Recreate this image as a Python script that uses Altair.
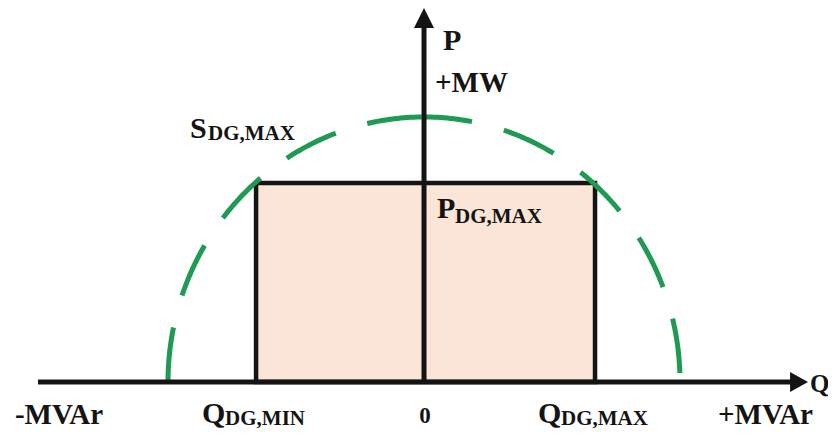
import numpy as np
import pandas as pd
import altair as alt

# ---- values (normalised so that S_DG,MAX = 1) ----
S_MAX = 1.0            # radius of the apparent-power limit circle
P_MAX = 0.751          # active power limit (top of rectangle)
Q_MIN = -0.656         # reactive power lower limit
Q_MAX = 0.668          # reactive power upper limit
Q_AXIS = [-1.508, 1.500]   # drawn extent of the Q axis
P_AXIS = [0.0, 1.411]      # drawn extent of the P axis
X_DOMAIN = [-1.625, 1.578]
Y_DOMAIN = [-0.181, 1.411]

W, H = 820, 422
FONT = "Liberation Serif"
INK = "#141414"
GREEN = "#1f9a52"
PEACH = "#fbe5d6"

xs = alt.Scale(domain=X_DOMAIN, nice=False, zero=False)
ys = alt.Scale(domain=Y_DOMAIN, nice=False, zero=False)


def X(f):
    return alt.X(f, type="quantitative", scale=xs, axis=None)


def Y(f):
    return alt.Y(f, type="quantitative", scale=ys, axis=None)


# operating rectangle
rect_df = pd.DataFrame({"q0": [Q_MIN], "q1": [Q_MAX], "p0": [0.0], "p1": [P_MAX]})
rect = alt.Chart(rect_df).mark_rect(fill=PEACH, stroke=INK, strokeWidth=4.5).encode(
    x=X("q0"), x2="q1", y=Y("p0"), y2="p1"
)

# S_DG,MAX circle, drawn as two quarter arcs from the Q axis up to the top
def arc(t0, t1):
    t = np.linspace(t0, t1, 121)
    return pd.DataFrame({"q": S_MAX * np.cos(t), "p": S_MAX * np.sin(t), "i": np.arange(len(t))})


left_arc = alt.Chart(arc(np.pi, np.pi / 2)).mark_line(
    color=GREEN, strokeWidth=5, strokeDash=[55, 33], strokeDashOffset=0, strokeCap="butt"
).encode(x=X("q"), y=Y("p"), order="i:Q")
right_arc = alt.Chart(arc(0.0, np.pi / 2)).mark_line(
    color=GREEN, strokeWidth=5, strokeDash=[55, 33], strokeDashOffset=79, strokeCap="butt"
).encode(x=X("q"), y=Y("p"), order="i:Q")

# axes with arrowheads
h_axis = alt.Chart(pd.DataFrame({"a": [Q_AXIS[0]], "b": [Q_AXIS[1] - 0.05], "y": [0.0]})).mark_rule(
    color=INK, strokeWidth=5
).encode(x=X("a"), x2="b", y=Y("y"))
v_axis = alt.Chart(pd.DataFrame({"x": [0.0], "a": [P_AXIS[0]], "b": [P_AXIS[1] - 0.05]})).mark_rule(
    color=INK, strokeWidth=5
).encode(x=X("x"), y=Y("a"), y2="b")

up_head = alt.Chart(pd.DataFrame({"x": [0.0], "y": [P_AXIS[1]]})).mark_point(
    shape="M0,0 L-1,2 L1,2 Z", filled=True, size=400, color=INK, opacity=1
).encode(x=X("x"), y=Y("y"))
right_head = alt.Chart(pd.DataFrame({"x": [Q_AXIS[1]], "y": [0.0]})).mark_point(
    shape="M0,0 L-1.8,-1 L-1.8,1 Z", filled=True, size=400, color=INK, opacity=1
).encode(x=X("x"), y=Y("y"))

# labels: (text, anchor q, anchor p, dx, dy, font size, align)
labels = [
    ("P", 0.0, P_AXIS[1], 19, 42, 30, "left"),
    ("+MW", 0.0, P_AXIS[1], 11, 84, 29, "left"),
    ("S", 0.0, S_MAX, -234, 21, 30, "left"),
    ("DG,MAX", 0.0, S_MAX, -216, 23, 21, "left"),
    ("P", 0.0, P_MAX, 13, 35, 30, "left"),
    ("DG,MAX", 0.0, P_MAX, 31, 40, 21, "left"),
    ("Q", Q_MIN, 0.0, -54, 41, 30, "left"),
    ("DG,MIN", Q_MIN, 0.0, -31, 43, 21, "left"),
    ("Q", Q_MAX, 0.0, -57, 41, 30, "left"),
    ("DG,MAX", Q_MAX, 0.0, -34, 43, 21, "left"),
    ("0", 0.0, 0.0, 1, 41, 23, "center"),
    ("-MVAr", Q_AXIS[0], 0.0, -23, 42, 29, "left"),
    ("+MVAr", Q_AXIS[1], 0.0, -90, 42, 29, "left"),
    ("Q", Q_AXIS[1], 0.0, 2, 10, 25, "left"),
]

text_layers = []
for txt, qx, py, dx, dy, fs, al in labels:
    df = pd.DataFrame({"x": [qx], "y": [py], "t": [txt]})
    text_layers.append(
        alt.Chart(df).mark_text(
            dx=dx, dy=dy, fontSize=fs, font=FONT, fontWeight="bold", color=INK,
            align=al, baseline="alphabetic"
        ).encode(x=X("x"), y=Y("y"), text="t:N")
    )

chart = alt.layer(
    rect, left_arc, right_arc, h_axis, v_axis, up_head, right_head, *text_layers
).properties(
    width=W, height=H, padding=0, autosize=alt.AutoSizeParams(type="none"), background="white"
).configure_view(stroke=None)

chart.save("out.html", embed_options={"renderer": "svg", "actions": False})
